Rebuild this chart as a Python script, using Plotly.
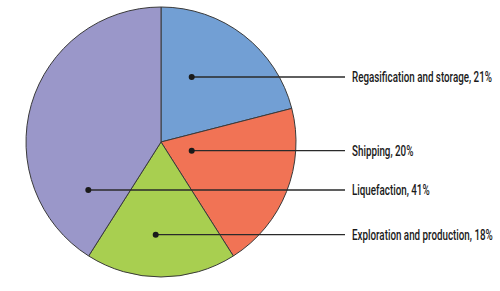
import plotly.graph_objects as go

# Data
labels = ["Regasification and storage", "Shipping", "Exploration and production", "Liquefaction"]
values = [21, 20, 18, 41]
colors = ["#729FD4", "#F17355", "#A8CF50", "#9A97C9"]

# Callout anchor points (pixel positions in the 500x291 canvas) for each slice
dot_x = [191.7, 191.7, 155.7, 88.3]
dot_y = [77, 150.7, 234.7, 190]

W, H = 500, 291
cx, cy, r = 161, 142, 135

fig = go.Figure(go.Pie(
    labels=labels, values=values, sort=False, direction="clockwise", rotation=0,
    marker=dict(colors=colors, line=dict(color="#3a3a3a", width=1)),
    textinfo="none", hoverinfo="label+percent", showlegend=False,
    domain=dict(x=[(cx - r) / W, (cx + r) / W], y=[1 - (cy + r) / H, 1 - (cy - r) / H]),
))

line_end = 345
text_x = 350
shapes = []
annotations = []
for lab, v, x, y in zip(labels, values, dot_x, dot_y):
    yp = 1 - y / H
    shapes.append(dict(type="line", xref="paper", yref="paper",
                       x0=x / W, x1=line_end / W, y0=yp, y1=yp,
                       line=dict(color="#2a2a2a", width=1.3)))
    shapes.append(dict(type="circle", xref="paper", yref="paper",
                       x0=(x - 3) / W, x1=(x + 3) / W, y0=yp - 3 / H, y1=yp + 3 / H,
                       fillcolor="#1a1a1a", line=dict(color="#1a1a1a", width=0)))
    annotations.append(dict(xref="paper", yref="paper", x=text_x / W, y=yp,
                            xanchor="left", yanchor="middle", showarrow=False,
                            text=f"{lab}, {v}%",
                            font=dict(family="Roboto, Liberation Sans, Arial, sans-serif",
                                      size=14, weight=500, color="#1a1a1a")))

fig.update_layout(
    width=W, height=H, margin=dict(l=0, r=0, t=0, b=0),
    paper_bgcolor="white", plot_bgcolor="white",
    shapes=shapes, annotations=annotations,
)

# Condense the label text horizontally (the original uses a condensed typeface)
post_script = """
var gd = document.getElementById('{plot_id}');
function squeeze(){
  var ts = gd.querySelectorAll('.annotation-text');
  if (!ts.length) return;
  var w0 = ts[0].getBBox().width;
  var s = w0 > 0 ? 140 / w0 : 0.7;
  ts.forEach(function(t){
    t.style.transformBox = 'fill-box';
    t.style.transformOrigin = '0% 50%';
    t.style.transform = 'scaleX(' + s + ')';
  });
}
squeeze();
gd.on('plotly_afterplot', squeeze);
"""
fig.write_html("out.html", post_script=post_script)
